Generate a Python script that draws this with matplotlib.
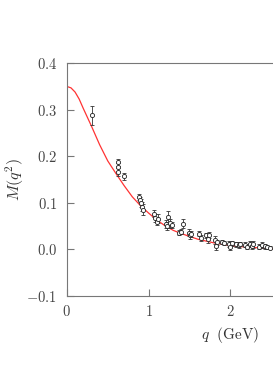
import matplotlib
matplotlib.use("Agg")
import matplotlib.pyplot as plt

# model curve
curve_q = [0.0, 0.05, 0.1, 0.15, 0.2, 0.3, 0.4, 0.5, 0.6, 0.7, 0.8, 0.9, 1.0,
           1.1, 1.2, 1.3, 1.4, 1.5, 1.6, 1.8, 2.0, 2.2, 2.4, 2.55]
curve_m = [0.350, 0.347, 0.338, 0.323, 0.303, 0.265, 0.225, 0.190, 0.163, 0.137,
           0.113, 0.094, 0.078, 0.063, 0.051, 0.041, 0.034, 0.028, 0.022, 0.014,
           0.008, 0.005, 0.003, 0.001]

# lattice data points
data_q = [0.31, 0.625, 0.625, 0.625, 0.695, 0.88, 0.89, 0.91, 0.92, 0.93,
          1.07, 1.08, 1.10, 1.12, 1.21, 1.23, 1.24, 1.26, 1.29, 1.37, 1.39, 1.42,
          1.49, 1.50, 1.52, 1.62, 1.64, 1.70, 1.72, 1.74, 1.81, 1.82, 1.83,
          1.90, 1.92, 1.98, 2.00, 2.02, 2.07, 2.10, 2.12, 2.18, 2.20, 2.24, 2.26,
          2.28, 2.35, 2.38, 2.42, 2.45, 2.48]
data_m = [0.288, 0.187, 0.177, 0.166, 0.157, 0.112, 0.107, 0.100, 0.092, 0.085,
          0.077, 0.068, 0.060, 0.066, 0.055, 0.050, 0.070, 0.056, 0.052, 0.036, 0.038, 0.055,
          0.036, 0.030, 0.033, 0.034, 0.025, 0.030, 0.022, 0.031, 0.020, 0.008, 0.015,
          0.016, 0.014, 0.012, 0.006, 0.013, 0.011, 0.009, 0.012, 0.010, 0.006, 0.012, 0.008,
          0.011, 0.006, 0.009, 0.007, 0.005, 0.004]
data_err = [0.020, 0.008, 0.008, 0.008, 0.007, 0.006, 0.006, 0.008, 0.010, 0.012,
            0.008, 0.008, 0.008, 0.010, 0.008, 0.008, 0.012, 0.010, 0.007, 0.005, 0.005, 0.010,
            0.007, 0.008, 0.006, 0.006, 0.006, 0.006, 0.008, 0.006, 0.008, 0.010, 0.006,
            0.005, 0.005, 0.006, 0.008, 0.005, 0.005, 0.006, 0.005, 0.005, 0.006, 0.007, 0.006,
            0.007, 0.005, 0.006, 0.005, 0.005, 0.004]

xticks = [0, 1, 2]
xtick_labels = ["0", "1", "2"]
yticks = [-0.1, 0.0, 0.1, 0.2, 0.3, 0.4]
ytick_labels = ["-0.1", "0.0", "0.1", "0.2", "0.3", "0.4"]

plt.rcParams['font.family'] = ['DejaVu Serif']
plt.rcParams['mathtext.fontset'] = 'cm'

fig = plt.figure(figsize=(2.73, 3.90), dpi=100)
ax = fig.add_axes([0.245, 0.241, 0.755, 0.597])

ax.plot(curve_q, curve_m, color='#ff3333', lw=0.9, zorder=2)
ax.errorbar(data_q, data_m, yerr=data_err, fmt='o', ms=3.0, mfc='white',
            mec='#222222', mew=0.6, ecolor='#333333', elinewidth=0.6,
            capsize=1.6, capthick=0.6, zorder=3)

ax.set_xlim(0, 2.52)
ax.set_ylim(-0.1, 0.4)
ax.set_xticks(xticks)
ax.set_xticklabels(['$%s$' % t for t in xtick_labels])
ax.set_yticks(yticks)
ax.set_yticklabels(['$%s$' % t for t in ytick_labels])

for s in ['left', 'bottom', 'top']:
    ax.spines[s].set_color('#777777')
    ax.spines[s].set_linewidth(0.8)
ax.spines['right'].set_visible(False)

ax.tick_params(direction='in', length=5, width=0.8, color='#777777',
               labelsize=10.5, labelcolor='#444444')
ax.tick_params(axis='y', pad=7)
ax.tick_params(axis='x', pad=6)

ax.set_ylabel(r'$M(q^2)$', fontsize=11.5, color='#333333')
ax.yaxis.set_label_coords(-0.2, 0.5)
ax.set_xlabel(r'$q\ \ (\mathrm{GeV})$', fontsize=11, color='#333333')
ax.xaxis.set_label_coords(0.79, -0.125)

fig.savefig('out.png', dpi=100)
